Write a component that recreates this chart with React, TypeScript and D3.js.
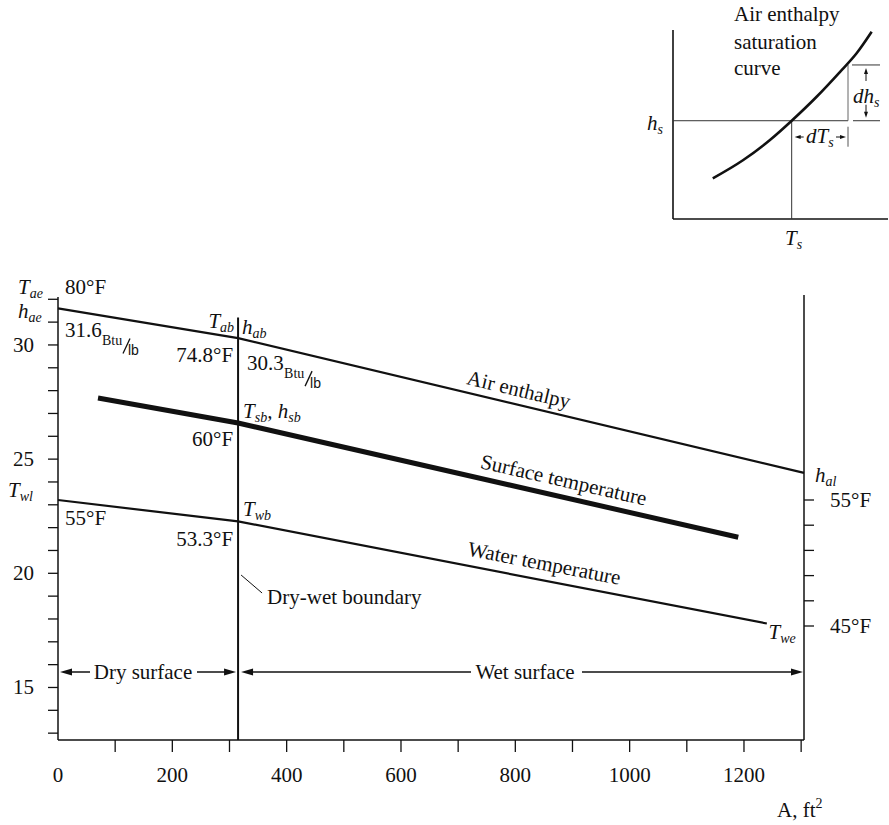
import React from "react";
import * as d3 from "d3";

// ---------- data ----------
const areaMax = 1305;
const areaTicks = [100, 200, 300, 400, 500, 600, 700, 800, 900, 1000, 1100, 1200, 1300];
const areaTickLabels = [0, 200, 400, 600, 800, 1000, 1200];
const enthalpyDomain = [12.7, 32.1];
const enthalpyTicks = [13, 14, 15, 16, 17, 18, 19, 20, 21, 22, 23, 24, 25, 26, 27, 28, 29, 30, 31, 32];
const enthalpyTickLabels = [15, 20, 25, 30];
const waterTempTicks = [45, 47, 49, 51, 53, 55];
const waterTempTickLabels = [45, 55];
const boundaryArea = 315;
// [area ft², enthalpy Btu/lb]
const airEnthalpy: [number, number][] = [[0, 31.6], [315, 30.3], [1305, 24.4]];
const surfaceEnthalpy: [number, number][] = [[70, 27.68], [315, 26.58], [1190, 21.58]];
// [area ft², water temperature °F]
const waterTemp: [number, number][] = [[0, 55], [315, 53.3], [1240, 45.2]];
// inset saturation curve (arbitrary units)
const satT = [1.85, 3.27, 4.51, 5.52, 6.68, 7.77, 8.54, 9.24];
const satH = [2.15, 3.12, 4.18, 5.2, 6.47, 7.79, 8.77, 9.91];
const insetTs = 5.52;
const insetHs = 5.2;
const insetT2 = 8.14;
const insetH2 = 8.15;

const FONT = "'Liberation Serif', 'Times New Roman', serif";
const INK = "#111";

function arrowPts(x: number, y: number, dir: string, len = 12, hw = 3.5) {
  switch (dir) {
    case "left": return `${x},${y} ${x + len},${y - hw} ${x + len},${y + hw}`;
    case "right": return `${x},${y} ${x - len},${y - hw} ${x - len},${y + hw}`;
    case "up": return `${x},${y} ${x - hw},${y + len} ${x + hw},${y + len}`;
    default: return `${x},${y} ${x - hw},${y - len} ${x + hw},${y - len}`;
  }
}

function interp(pts: [number, number][], a: number) {
  for (let i = 0; i < pts.length - 1; i++) {
    const [a0, v0] = pts[i];
    const [a1, v1] = pts[i + 1];
    if (a >= a0 && a <= a1) {
      return { v: v0 + ((v1 - v0) * (a - a0)) / (a1 - a0), i };
    }
  }
  return { v: pts[pts.length - 1][1], i: pts.length - 2 };
}

function Units({ x, y, value }: { x: number; y: number; value: string }) {
  return (
    <g>
      <text x={x} y={y} fontSize={21}>{value}</text>
      <text x={x + 37} y={y + 8} fontSize={14}>Btu</text>
      <line x1={x + 58} y1={y + 16} x2={x + 65} y2={y + 1} stroke={INK} strokeWidth={1.3} />
      <text x={x + 63} y={y + 18} fontSize={14} fontFamily="'Liberation Sans', Arial, sans-serif">lb</text>
    </g>
  );
}

export default function App() {
  const x = d3.scaleLinear().domain([0, areaMax]).range([58, 804]);
  const yH = d3.scaleLinear().domain(enthalpyDomain).range([740, 297]);
  const yT = d3.scaleLinear().domain([45, 55]).range([626, 500]);
  const ix = d3.scaleLinear().domain([0, 10]).range([673, 888]);
  const iy = d3.scaleLinear().domain([0, 10]).range([219, 30]);

  const lineH = d3.line<[number, number]>().x((d) => x(d[0])).y((d) => yH(d[1]));
  const lineT = d3.line<[number, number]>().x((d) => x(d[0])).y((d) => yT(d[1]));
  const satLine = d3
    .line<number>()
    .x((_, i) => ix(satT[i]))
    .y((d) => iy(d))
    .curve(d3.curveMonotoneX);

  const bx = x(boundaryArea);
  const x0 = x(0);
  const xR = x(areaMax);
  const yBottom = yH(enthalpyDomain[0]);
  const yTop = yH(enthalpyDomain[1]);

  const lineLabel = (
    pts: [number, number][],
    ys: d3.ScaleLinear<number, number>,
    a: number,
    text: string,
    off: number
  ) => {
    const { v, i } = interp(pts, a);
    const p0 = pts[i];
    const p1 = pts[i + 1];
    const ang = (Math.atan2(ys(p1[1]) - ys(p0[1]), x(p1[0]) - x(p0[0])) * 180) / Math.PI;
    return (
      <text
        transform={`translate(${x(a)},${ys(v)}) rotate(${ang})`}
        y={-off}
        textAnchor="middle"
        fontSize={21}
      >
        {text}
      </text>
    );
  };

  const airB = yH(interp(airEnthalpy, boundaryArea).v);
  const surfB = yH(interp(surfaceEnthalpy, boundaryArea).v);
  const watB = yT(interp(waterTemp, boundaryArea).v);
  const air0 = yH(airEnthalpy[0][1]);
  const airEnd = yH(airEnthalpy[airEnthalpy.length - 1][1]);
  const wat0 = yT(waterTemp[0][1]);
  const watEndPt = waterTemp[waterTemp.length - 1];

  const arrowY = yBottom - 68;

  const sub = 14;
  const hsY = iy(insetHs);
  const tsX = ix(insetTs);
  const t2X = ix(insetT2);
  const h2Y = iy(insetH2);

  return (
    <svg
      width={889}
      height={825}
      style={{ position: "absolute", left: 0, top: 0, background: "#fff" }}
      fontFamily={FONT}
      fill={INK}
    >
      <rect x={0} y={0} width={889} height={825} fill="#fff" />

      {/* ---------- inset ---------- */}
      <g>
        <line x1={ix(0)} y1={iy(10)} x2={ix(0)} y2={iy(0)} stroke={INK} strokeWidth={1.6} />
        <line x1={ix(0)} y1={iy(0)} x2={ix(10)} y2={iy(0)} stroke={INK} strokeWidth={1.6} />
        <line x1={ix(0)} y1={hsY} x2={t2X} y2={hsY} stroke="#333" strokeWidth={1} />
        <line x1={tsX} y1={hsY} x2={tsX} y2={iy(0)} stroke="#333" strokeWidth={1} />
        <line x1={t2X} y1={h2Y} x2={t2X} y2={hsY} stroke="#666" strokeWidth={1} />
        <path d={satLine(satH) || ""} fill="none" stroke={INK} strokeWidth={2.6} />
        <line x1={t2X + 4} y1={h2Y} x2={880} y2={h2Y} stroke="#333" strokeWidth={1} />
        <line x1={t2X + 5} y1={hsY} x2={880} y2={hsY} stroke="#333" strokeWidth={1} />
        {/* dh_s arrows */}
        <line x1={866} y1={h2Y + 6} x2={866} y2={h2Y + 16} stroke={INK} strokeWidth={1} />
        <polygon points={arrowPts(866, h2Y + 3, "up", 6, 2)} />
        <line x1={866} y1={hsY - 16} x2={866} y2={hsY - 6} stroke={INK} strokeWidth={1} />
        <polygon points={arrowPts(866, hsY - 3, "down", 6, 2)} />
        <text x={853} y={103} fontSize={21} fontStyle="italic">
          dh<tspan fontSize={sub} dy={4}>s</tspan>
        </text>
        {/* dT_s arrows */}
        <line x1={t2X} y1={hsY + 6} x2={t2X} y2={hsY + 26} stroke="#555" strokeWidth={1} />
        <polygon points={arrowPts(tsX + 3, 137, "left", 6, 2)} />
        <line x1={tsX + 6} y1={137} x2={tsX + 12} y2={137} stroke={INK} strokeWidth={1} />
        <polygon points={arrowPts(t2X - 2, 137, "right", 6, 2)} />
        <line x1={t2X - 12} y1={137} x2={t2X - 6} y2={137} stroke={INK} strokeWidth={1} />
        <text x={806} y={143} fontSize={21} fontStyle="italic">
          dT<tspan fontSize={sub} dy={4}>s</tspan>
        </text>
        <text x={647} y={130} fontSize={21} fontStyle="italic">
          h<tspan fontSize={sub} dy={4}>s</tspan>
        </text>
        <text x={785} y={245} fontSize={21} fontStyle="italic">
          T<tspan fontSize={sub} dy={4}>s</tspan>
        </text>
        <text x={734} y={21} fontSize={21}>Air enthalpy</text>
        <text x={734} y={49} fontSize={21}>saturation</text>
        <text x={734} y={75} fontSize={21}>curve</text>
      </g>

      {/* ---------- main axes ---------- */}
      <line x1={x0} y1={yTop} x2={x0} y2={yBottom} stroke={INK} strokeWidth={1.5} />
      <line x1={xR} y1={yTop - 2} x2={xR} y2={yBottom} stroke={INK} strokeWidth={1.5} />
      <line x1={x0} y1={yBottom} x2={xR} y2={yBottom} stroke={INK} strokeWidth={1.5} />

      {enthalpyTicks.map((t) => (
        <line key={"ht" + t} x1={x0 - 10} y1={yH(t)} x2={x0} y2={yH(t)} stroke={INK} strokeWidth={1.3} />
      ))}
      {enthalpyTickLabels.map((t) => (
        <text key={"hl" + t} x={34} y={yH(t) + 7} textAnchor="end" fontSize={21}>
          {t}
        </text>
      ))}
      {areaTicks.map((t) => (
        <line key={"at" + t} x1={x(t)} y1={yBottom} x2={x(t)} y2={yBottom + 12} stroke={INK} strokeWidth={1.3} />
      ))}
      {areaTickLabels.map((t) => (
        <text key={"al" + t} x={x(t)} y={yBottom + 42} textAnchor="middle" fontSize={21}>
          {t}
        </text>
      ))}
      {waterTempTicks.map((t) => (
        <line key={"wt" + t} x1={xR} y1={yT(t)} x2={xR + 10} y2={yT(t)} stroke={INK} strokeWidth={1.3} />
      ))}
      {waterTempTickLabels.map((t) => (
        <text key={"wl" + t} x={xR + 26} y={yT(t) + 7} fontSize={21}>
          {t}°F
        </text>
      ))}
      <text x={777} y={817} fontSize={21}>
        A, ft<tspan fontSize={14} dy={-9}>2</tspan>
      </text>

      {/* ---------- lines ---------- */}
      <line x1={bx} y1={yH(31.2)} x2={bx} y2={yBottom} stroke={INK} strokeWidth={2} />
      <path d={lineH(airEnthalpy) || ""} fill="none" stroke={INK} strokeWidth={2.2} />
      <path d={lineH(surfaceEnthalpy) || ""} fill="none" stroke={INK} strokeWidth={5} />
      <path d={lineT(waterTemp) || ""} fill="none" stroke={INK} strokeWidth={2.2} />

      {lineLabel(airEnthalpy, yH, 800, "Air enthalpy", 8)}
      {lineLabel(surfaceEnthalpy, yH, 878, "Surface temperature", 10)}
      {lineLabel(waterTemp, yT, 845, "Water temperature", 10)}

      {/* ---------- annotations ---------- */}
      <text x={18} y={yH(32) - 5} fontSize={21} fontStyle="italic">
        T<tspan fontSize={sub} dy={4}>ae</tspan>
      </text>
      <text x={65} y={yH(32) - 5} fontSize={21}>80°F</text>
      <text x={18} y={yH(31) - 4} fontSize={21} fontStyle="italic">
        h<tspan fontSize={sub} dy={4}>ae</tspan>
      </text>
      <Units x={65} y={air0 + 29} value="31.6" />

      <text x={bx - 4} y={airB - 10} fontSize={21} fontStyle="italic" textAnchor="end">
        T<tspan fontSize={sub} dy={4}>ab</tspan>
      </text>
      <text x={bx + 4} y={airB - 4} fontSize={21} fontStyle="italic">
        h<tspan fontSize={sub} dy={4}>ab</tspan>
      </text>
      <text x={bx - 5} y={airB + 24} fontSize={21} textAnchor="end">74.8°F</text>
      <Units x={bx + 9} y={airB + 32} value="30.3" />

      <text x={bx + 5} y={surfB - 5} fontSize={21} fontStyle="italic">
        T<tspan fontSize={sub} dy={4}>sb</tspan>
        <tspan dy={-4}>, h</tspan>
        <tspan fontSize={sub} dy={4}>sb</tspan>
      </text>
      <text x={bx - 5} y={surfB + 23} fontSize={21} textAnchor="end">60°F</text>

      <text x={8} y={wat0 - 3} fontSize={21} fontStyle="italic">
        T<tspan fontSize={sub} dy={4}>wl</tspan>
      </text>
      <text x={65} y={wat0 + 25} fontSize={21}>55°F</text>
      <text x={bx + 5} y={watB - 5} fontSize={21} fontStyle="italic">
        T<tspan fontSize={sub} dy={4}>wb</tspan>
      </text>
      <text x={bx - 5} y={watB + 25} fontSize={21} textAnchor="end">53.3°F</text>

      <text x={xR + 11} y={airEnd + 9} fontSize={21} fontStyle="italic">
        h<tspan fontSize={sub} dy={4}>al</tspan>
      </text>
      <text x={x(watEndPt[0]) + 29} y={yT(watEndPt[1]) + 16} fontSize={21} fontStyle="italic" textAnchor="end">
        T<tspan fontSize={sub} dy={4}>we</tspan>
      </text>

      {/* boundary leader */}
      <line x1={bx + 3} y1={575} x2={bx + 24} y2={593} stroke={INK} strokeWidth={1} />
      <text x={bx + 29} y={604} fontSize={21}>Dry-wet boundary</text>

      {/* dry / wet arrows */}
      <polygon points={arrowPts(x0 + 2, arrowY, "left")} />
      <line x1={x0 + 10} y1={arrowY} x2={90} y2={arrowY} stroke={INK} strokeWidth={1.5} />
      <text x={143} y={arrowY + 7} fontSize={21} textAnchor="middle">Dry surface</text>
      <line x1={197} y1={arrowY} x2={bx - 8} y2={arrowY} stroke={INK} strokeWidth={1.5} />
      <polygon points={arrowPts(bx - 2, arrowY, "right")} />

      <polygon points={arrowPts(bx + 3, arrowY, "left")} />
      <line x1={bx + 10} y1={arrowY} x2={471} y2={arrowY} stroke={INK} strokeWidth={1.5} />
      <text x={525} y={arrowY + 7} fontSize={21} textAnchor="middle">Wet surface</text>
      <line x1={582} y1={arrowY} x2={xR - 8} y2={arrowY} stroke={INK} strokeWidth={1.5} />
      <polygon points={arrowPts(xR - 1, arrowY, "right")} />
    </svg>
  );
}
